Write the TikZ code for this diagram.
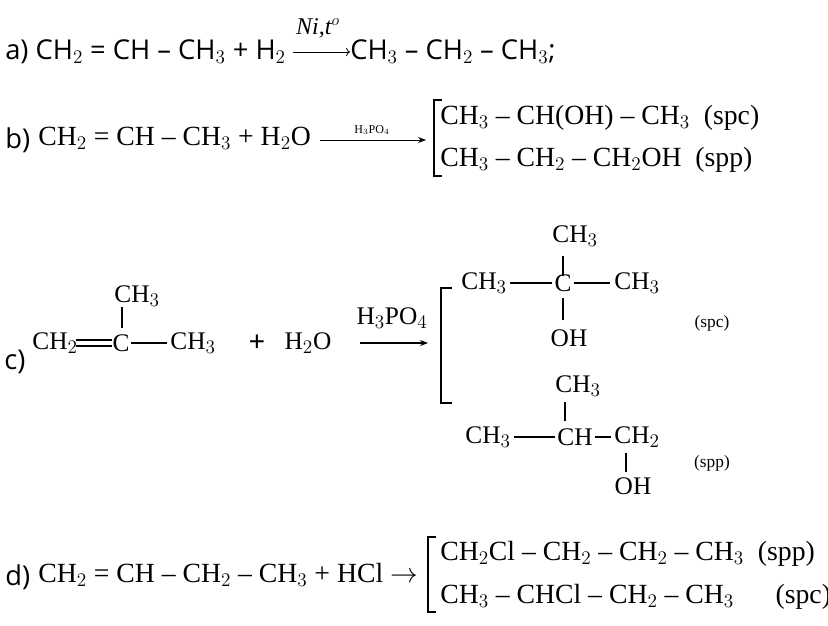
\documentclass[tikz,border=0pt]{standalone}
\usepackage{fontspec}
\setmainfont{Liberation Serif}
\newfontfamily\sansf{Open Sans}
\usetikzlibrary{arrows.meta}
\begin{document}
\begin{tikzpicture}[x=0.75pt,y=-0.75pt,
  sa/.style={font=\sansf\fontsize{20.5}{22}\selectfont,anchor=west,inner sep=0pt},
  se/.style={font=\fontsize{20.8}{22}\selectfont,anchor=west,inner sep=0pt},
  sc/.style={font=\fontsize{19}{20}\selectfont,anchor=center,inner sep=0pt},
  sm/.style={font=\fontsize{13}{14}\selectfont,anchor=center,inner sep=0pt},
  bd/.style={line width=1.4pt},
  ar/.style={line width=0.6pt,-{Stealth[length=6pt]}}]
\useasboundingbox (0,0) rectangle (828,625);
% a
\node[sa] (a1) at (5,52) {a) CH$_2$ = CH – CH$_3$ + H$_2$};
\node[sa] (a2) at (350,52) {CH$_3$ – CH$_2$ – CH$_3$;};
\coordinate (as) at (293,52);
\draw[line width=0.6pt,-{To}] (as) -- (a2.west);
\node[font=\fontsize{18}{18}\selectfont\itshape] (al) at (318,28) {Ni,t$^o$};
% b
\node[sa] (b0) at (5,140) {b)};
\node[se] (b1) at (38,138) {CH$_2$ = CH – CH$_3$ + H$_2$O};
\coordinate (ba) at (320,140);
\coordinate (bb) at (426,140);
\draw[ar] (ba) -- (bb);
\node[font=\fontsize{9}{10}\selectfont] (bl) at (372,130) {H$_3$PO$_4$};
\draw[line width=0.8pt] (442,100) -- (434,100) -- (434,176) -- (442,176);
\node[se] (b2) at (440,118) {CH$_3$ – CH(OH) – CH$_3$ \ (spc)};
\node[se] (b3) at (440,160) {CH$_3$ – CH$_2$ – CH$_2$OH \ (spp)};
% c
\node[sa] (c0) at (4,362) {c)};
\node[sc] (ch2) at (55,343) {CH$_2$};
\node[sc] (cc) at (121,343) {C};
\node[sc] (cm) at (193,343) {CH$_3$};
\node[sc] (ct) at (137,296) {CH$_3$};
\draw[bd] (122,307) -- (122,328);
\draw[bd] (76,340) -- (112,340) (76,346) -- (112,346);
\draw[bd] (131,343) -- (167,343);
\node[font=\bfseries\fontsize{22}{22}\selectfont] (cp) at (257,343) {+};
\node[sc] (cw) at (308,343) {H$_2$O};
\coordinate (cae) at (428,343);
\draw[ar,line width=0.8pt] (360,343) -- (cae);
\node[sc] (cl) at (392,318) {H$_3$PO$_4$};
\draw[line width=1pt] (452,288) -- (441,288) -- (441,403) -- (452,403);
% upper product
\node[sc] (ut) at (575,236) {CH$_3$};
\draw[bd] (563,256) -- (563,276);
\node[sc] (ul) at (484,283) {CH$_3$};
\node[sc] (uc) at (563,283) {C};
\node[sc] (ur) at (637,283) {CH$_3$};
\draw[bd] (510,283) -- (552,283) (574,283) -- (610,283);
\draw[bd] (563,298) -- (563,320);
\node[sc] (uo) at (569,338) {OH};
\node[sm] (us) at (712,323) {(spc)};
% lower product
\node[sc] (lt) at (578,386) {CH$_3$};
\draw[bd] (565,402) -- (565,421);
\node[sc] (ll) at (488,437) {CH$_3$};
\node[sc] (lc) at (575,437) {CH};
\node[sc] (lr) at (637,437) {CH$_2$};
\draw[bd] (514,437) -- (555,437) (595,437) -- (611,437);
\draw[bd] (626,453) -- (626,472);
\node[sc] (lo) at (633,486) {OH};
\node[sm] (ls) at (712,463) {(spp)};
% d
\node[sa] (d0) at (5,577) {d)};
\node[se] (d1) at (38,575) {CH$_2$ = CH – CH$_2$ – CH$_3$ + HCl $\rightarrow$};
\draw[line width=0.8pt] (436,537) -- (428,537) -- (428,612) -- (436,612);
\node[se] (d2) at (440,554) {CH$_2$Cl – CH$_2$ – CH$_2$ – CH$_3$ \ (spp)};
\node[se] (d3) at (440,597) {CH$_3$ – CHCl – CH$_2$ – CH$_3$ \quad\ (spc)};
\end{tikzpicture}
\end{document}
